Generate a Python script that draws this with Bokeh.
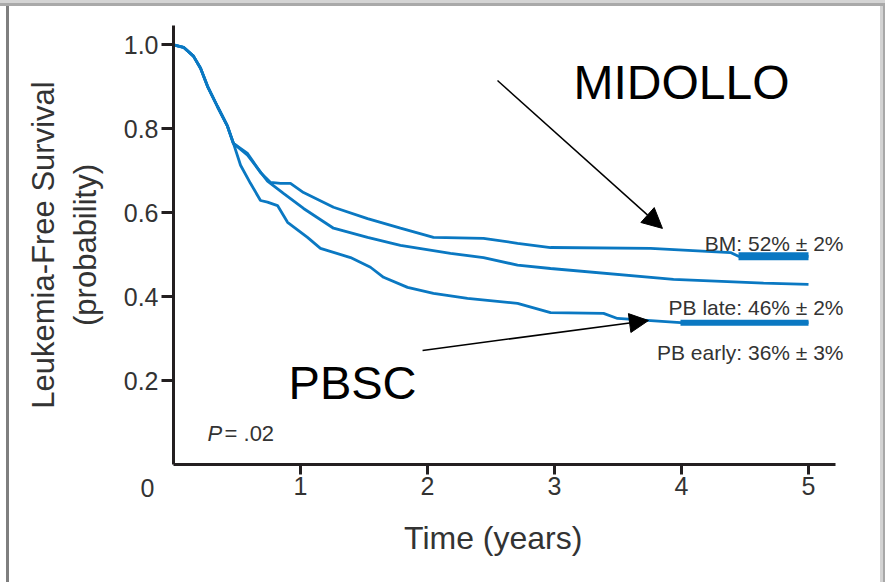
from bokeh.plotting import figure
from bokeh.models import Range1d, FixedTicker, NumeralTickFormatter, Label, Arrow, NormalHead
from bokeh.embed import file_html
from bokeh.resources import INLINE

# ---- data ----
bm_t = [0, 0.079, 0.157, 0.213, 0.268, 0.346, 0.425, 0.472, 0.583, 0.685, 0.764, 0.843, 0.921, 1.024,
        1.260, 1.528, 1.787, 2.047, 2.441, 2.709, 2.969, 3.756, 4.386, 4.449, 5.0]
bm_s = [1.0, 0.994, 0.973, 0.944, 0.901, 0.853, 0.806, 0.765, 0.741, 0.696, 0.672, 0.670, 0.670, 0.648,
        0.613, 0.586, 0.563, 0.541, 0.539, 0.527, 0.517, 0.515, 0.505, 0.496, 0.496]

late_t = [0, 0.079, 0.157, 0.213, 0.268, 0.346, 0.425, 0.472, 0.583, 0.661, 0.740, 0.866, 1.024, 1.260,
          1.528, 1.787, 2.181, 2.441, 2.709, 2.969, 3.937, 4.646, 5.0]
late_s = [1.0, 0.994, 0.973, 0.944, 0.901, 0.853, 0.806, 0.765, 0.737, 0.706, 0.675, 0.646, 0.610, 0.563,
          0.541, 0.522, 0.503, 0.493, 0.475, 0.467, 0.441, 0.432, 0.429]

early_t = [0, 0.079, 0.157, 0.213, 0.268, 0.346, 0.425, 0.472, 0.528, 0.606, 0.685, 0.740, 0.819, 0.898,
           1.055, 1.157, 1.394, 1.551, 1.654, 1.843, 2.047, 2.315, 2.709, 2.969, 3.386, 3.496, 3.992, 5.0]
early_s = [1.0, 0.994, 0.973, 0.944, 0.901, 0.853, 0.806, 0.765, 0.713, 0.670, 0.629, 0.625, 0.617, 0.577,
           0.541, 0.515, 0.493, 0.470, 0.446, 0.422, 0.408, 0.396, 0.384, 0.362, 0.360, 0.348, 0.338, 0.338]

# dense censoring marks at the tails (drawn as thick segments)
bm_thick_t = [4.449, 5.0]
bm_thick_s = [0.496, 0.496]
early_thick_t = [3.992, 5.0]
early_thick_s = [0.338, 0.338]

x_ticks = [1, 2, 3, 4, 5]
y_ticks = [0.2, 0.4, 0.6, 0.8, 1.0]

group_labels = ["BM: 52% \u00b1 2%", "PB late: 46% \u00b1 2%", "PB early: 36% \u00b1 3%"]
group_label_y = [0.527, 0.374, 0.267]

BLUE = "#0a78c2"
DARK = "#231f20"
TXT = "#333333"
FONT = "Liberation Sans"

p = figure(width=885, height=582, output_backend="svg", toolbar_location=None,
           x_range=Range1d(0, 5.315), y_range=Range1d(0, 1.046),
           min_border_left=173, min_border_right=37, min_border_top=25, min_border_bottom=118)
p.grid.visible = False
p.outline_line_color = None
p.background_fill_color = "white"
p.border_fill_color = None
# thin grey window edges seen around the original picture
p.styles = {
    "background-color": "white",
    "background-image": (
        "linear-gradient(to bottom, #d4d4d4 0px, #d4d4d4 3px, #a9a9a9 3px, #a9a9a9 6px, "
        "rgba(255,255,255,0) 6px), "
        "linear-gradient(to right, rgba(255,255,255,0) 6px, #7f7f7f 6px, #7f7f7f 9px, "
        "rgba(255,255,255,0) 9px, rgba(255,255,255,0) 880px, #d3d3d3 880px, #d3d3d3 883px, "
        "#a8a8a8 883px)"
    ),
}

for ax in (p.xaxis[0], p.yaxis[0]):
    ax.axis_line_width = 3
    ax.axis_line_color = DARK
    ax.major_tick_line_width = 3
    ax.major_tick_line_color = DARK
    ax.major_tick_in = 0
    ax.minor_tick_line_color = None
    ax.major_label_text_font = FONT
    ax.major_label_text_font_size = "25px"
    ax.major_label_text_color = TXT
    ax.axis_label_text_font = FONT
    ax.axis_label_text_font_style = "normal"
    ax.axis_label_text_color = TXT

p.xaxis.ticker = FixedTicker(ticks=x_ticks)
p.xaxis.bounds = (0, 5.21)
p.xaxis.major_tick_out = 10
p.xaxis.major_label_standoff = 2
# trailing no-break spaces shift the centred title slightly left, as in the original
p.xaxis.axis_label = "Time (years)" + "\u00a0" * 4
p.xaxis.axis_label_text_font_size = "32px"
p.xaxis.axis_label_standoff = 22

p.yaxis.ticker = FixedTicker(ticks=y_ticks)
p.yaxis.formatter = NumeralTickFormatter(format="0.0")
p.yaxis.major_tick_out = 12
p.yaxis.major_label_standoff = 3
p.yaxis.axis_label = "Leukemia-Free Survival\n(probability)"
p.yaxis.axis_label_text_font_size = "31px"
p.yaxis.axis_label_text_line_height = 1.2
p.yaxis.axis_label_standoff = 18

# curves
p.line(early_t, early_s, line_color=BLUE, line_width=2.8)
p.line(late_t, late_s, line_color=BLUE, line_width=2.8)
p.line(bm_t, bm_s, line_color=BLUE, line_width=2.8)
p.line(bm_thick_t, bm_thick_s, line_color=BLUE, line_width=8)
p.line(early_thick_t, early_thick_s, line_color=BLUE, line_width=6)

# origin "0" label (outside the frame, so placed in a side panel)
p.add_layout(Label(x=-0.205, y=-0.057, text="0", text_align="center", text_baseline="middle",
                   text_font=FONT, text_font_size="25px", text_color=TXT), "left")

# group labels
for txt, yy in zip(group_labels, group_label_y):
    p.add_layout(Label(x=5.276, y=yy, text=txt, text_align="right", text_baseline="alphabetic",
                       text_font=FONT, text_font_size="21px", text_color=TXT))

# P value
p.add_layout(Label(x=0.268, y=0.074, text="P", text_align="left", text_baseline="alphabetic",
                   text_font=FONT, text_font_size="22px", text_font_style="italic", text_color=TXT))
p.add_layout(Label(x=0.402, y=0.074, text="= .02", text_align="left", text_baseline="alphabetic",
                   text_font=FONT, text_font_size="22px", text_color=TXT))

# annotations
p.add_layout(Label(x=3.150, y=0.9106, text="MIDOLLO", text_align="left", text_baseline="alphabetic",
                   text_font=FONT, text_font_size="48px", text_color="black"))
p.add_layout(Label(x=0.906, y=0.1955, text="PBSC", text_align="left", text_baseline="alphabetic",
                   text_font=FONT, text_font_size="47px", text_color="black"))

p.add_layout(Arrow(end=NormalHead(size=20, fill_color="black", line_color="black"),
                   x_start=2.551, y_start=0.915, x_end=3.850, y_end=0.5626,
                   line_color="black", line_width=1.5))
p.add_layout(Arrow(end=NormalHead(size=19, fill_color="black", line_color="black"),
                   x_start=1.961, y_start=0.2718, x_end=3.740, y_end=0.343,
                   line_color="black", line_width=1.5))

open("out.html", "w").write(file_html(p, INLINE))
